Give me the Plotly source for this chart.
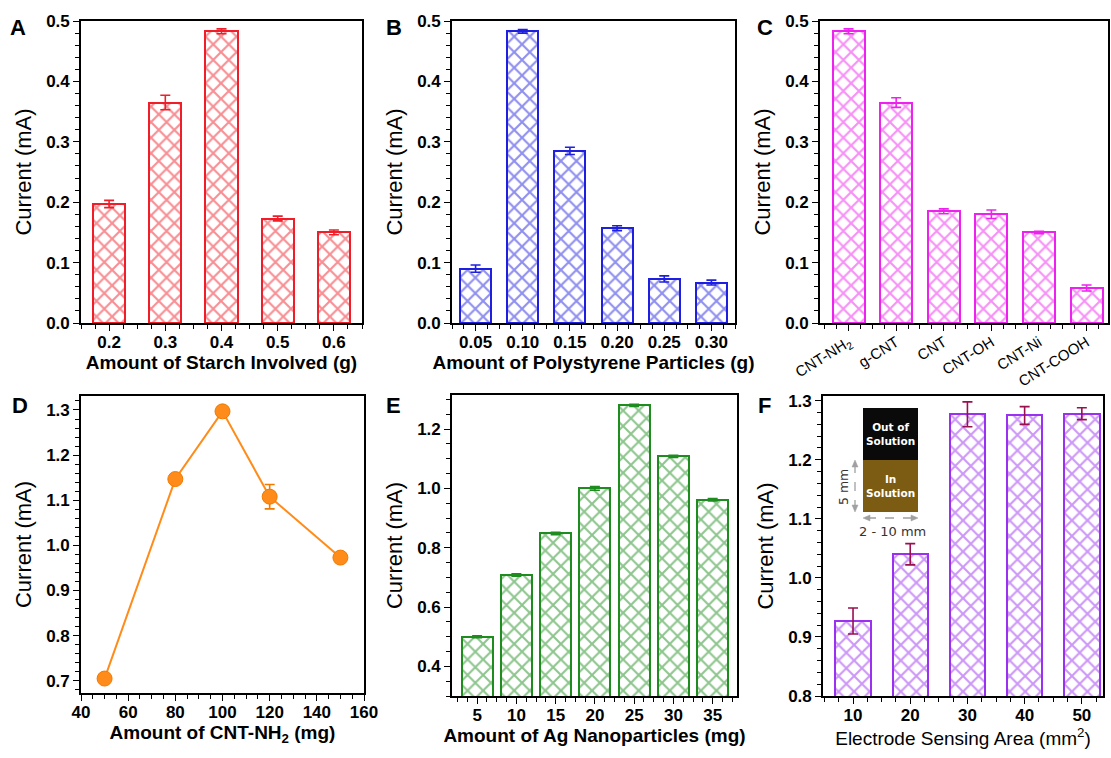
import plotly.graph_objects as go

W, H = 1111, 758

# ---------------- data ----------------
starch_x = [0.2, 0.3, 0.4, 0.5, 0.6]
starch_y = [0.197, 0.365, 0.483, 0.173, 0.150]
starch_err = [0.006, 0.012, 0.004, 0.004, 0.004]

ps_x = [0.05, 0.10, 0.15, 0.20, 0.25, 0.30]
ps_labels = ["0.05", "0.10", "0.15", "0.20", "0.25", "0.30"]
ps_y = [0.090, 0.483, 0.285, 0.157, 0.073, 0.067]
ps_err = [0.006, 0.003, 0.006, 0.004, 0.005, 0.004]

cnt_labels = ["CNT-NH<sub>2</sub>", "g-CNT", "CNT", "CNT-OH", "CNT-Ni", "CNT-COOH"]
cnt_y = [0.483, 0.365, 0.185, 0.180, 0.150, 0.058]
cnt_err = [0.004, 0.008, 0.004, 0.007, 0.002, 0.005]

nh2_x = [50, 80, 100, 120, 150]
nh2_y = [0.705, 1.147, 1.297, 1.108, 0.973]
nh2_err = [0.004, 0.005, 0.004, 0.027, 0.005]

ag_x = [5, 10, 15, 20, 25, 30, 35]
ag_y = [0.500, 0.708, 0.848, 1.000, 1.280, 1.108, 0.962]
ag_err = [0.003, 0.004, 0.004, 0.006, 0.004, 0.004, 0.004]

area_x = [10, 20, 30, 40, 50]
area_y = [0.927, 1.040, 1.277, 1.275, 1.278]
area_err = [0.022, 0.018, 0.021, 0.015, 0.010]

# ---------------- helpers ----------------
def px_x(a, b):
    return [a / W, b / W]

def px_y(top, bot):
    return [1 - bot / H, 1 - top / H]

def PX(p):
    return p / W

def PY(p):
    return 1 - p / H

FONT = "Liberation Sans, Arial, sans-serif"
TICKFONT = dict(family=FONT, size=17, color="black", weight="bold")

fig = go.Figure()

def bar(x, y, err, color, width, xa, ya, errcolor=None):
    fig.add_trace(go.Bar(
        x=x, y=y, width=width, xaxis=xa, yaxis=ya,
        marker=dict(color="white",
                    line=dict(color=color, width=2),
                    pattern=dict(shape="x", fgcolor=color, bgcolor="white",
                                 size=11, solidity=0.35, fillmode="overlay")),
        error_y=dict(type="data", array=err, color=errcolor or color,
                     thickness=1.6, width=5),
        showlegend=False))

# A
bar(starch_x, starch_y, starch_err, "#F01E28", 0.057, "x", "y")
# B
bar(ps_x, ps_y, ps_err, "#1F1FE0", 0.033, "x2", "y2")
# C
bar(list(range(len(cnt_labels))), cnt_y, cnt_err, "#EE22EE", 0.67, "x3", "y3")
# D
fig.add_trace(go.Scatter(
    x=nh2_x, y=nh2_y, xaxis="x4", yaxis="y4", mode="lines+markers",
    line=dict(color="#FF8C1A", width=2),
    marker=dict(color="#FF8C1A", size=15, line=dict(color="#F07A00", width=1)),
    error_y=dict(type="data", array=nh2_err, color="#F07A00", thickness=1.6, width=5),
    showlegend=False))
# E
bar(ag_x, ag_y, ag_err, "#1E8C1E", 3.95, "x5", "y5")
# F
bar(area_x, area_y, area_err, "#9A30F0", 6.2, "x6", "y6", errcolor="#99104F")

def xaxis(dom, rng, dtick, minor, anchor, title=None, tfont=None, **kw):
    d = dict(domain=dom, range=rng, anchor=anchor, dtick=dtick, automargin=False,
             showline=True, linecolor="black", linewidth=1.6, mirror=True,
             ticks="outside", ticklen=6, tickwidth=1.4, tickcolor="black",
             minor=dict(dtick=minor, ticks="outside", ticklen=4, tickcolor="black", tickwidth=1.2),
             showgrid=False, zeroline=False, tickfont=TICKFONT, ticklabelstandoff=-3)
    if title:
        d["title"] = dict(text=title,
                          font=tfont or dict(family=FONT, size=19, color="black", weight="bold"),
                          standoff=2)
    d.update(kw)
    return d

def yaxis(dom, rng, dtick, minor, anchor, **kw):
    d = dict(domain=dom, range=rng, anchor=anchor, dtick=dtick, tick0=0, automargin=False,
             showline=True, linecolor="black", linewidth=1.6, mirror=True,
             ticks="outside", ticklen=6, tickwidth=1.4, tickcolor="black",
             minor=dict(dtick=minor, ticks="outside", ticklen=4, tickcolor="black", tickwidth=1.2),
             showgrid=False, zeroline=False, tickfont=TICKFONT,
             title=dict(text="Current (mA)", font=dict(family=FONT, size=22, color="black"),
                        standoff=8))
    d.update(kw)
    return d

top_row = (21, 323)
fig.update_layout(
    width=W, height=H, margin=dict(l=0, r=0, t=0, b=0),
    paper_bgcolor="white", plot_bgcolor="white", bargap=0,
    xaxis=xaxis(px_x(81, 362), [0.15, 0.65], 0.1, 0.025, "y", "Amount of Starch Involved (g)", tick0=0),
    yaxis=yaxis(px_y(*top_row), [0, 0.5], 0.1, 0.02, "x", tickformat=".1f"),
    xaxis2=xaxis(px_x(452, 735), [0.025, 0.325], None, 0.0125, "y2", "Amount of Polystyrene Particles (g)",
                 tickvals=ps_x, ticktext=ps_labels),
    yaxis2=yaxis(px_y(*top_row), [0, 0.5], 0.1, 0.02, "x2", tickformat=".1f"),
    xaxis3=xaxis(px_x(820, 1108), [-0.6, 5.45], None, 0.25, "y3",
                 tickvals=list(range(len(cnt_labels))), ticktext=cnt_labels, tickangle=-32,
                 tickfont=dict(family=FONT, size=15, color="black")),
    yaxis3=yaxis(px_y(*top_row), [0, 0.5], 0.1, 0.02, "x3", tickformat=".1f"),
    xaxis4=xaxis(px_x(81, 364), [40, 160], 20, 5, "y4", "Amount of CNT-NH<sub>2</sub> (mg)", tick0=0),
    yaxis4=yaxis(px_y(396, 693), [0.673, 1.331], 0.1, 0.02, "x4", tickformat=".1f"),
    xaxis5=xaxis(px_x(452, 737), [1.8, 38.1], 5, 1.25, "y5", "Amount of Ag Nanoparticles (mg)", tick0=0),
    yaxis5=yaxis(px_y(395, 696), [0.3, 1.315], 0.2, 0.05, "x5", tickformat=".1f"),
    xaxis6=xaxis(px_x(823, 1103), [4.75, 53.7], 10, 2.5, "y6", "Electrode Sensing Area (mm<sup>2</sup>)",
                 tfont=dict(family=FONT, size=19, color="black"), tick0=0),
    yaxis6=yaxis(px_y(396, 696), [0.8, 1.308], 0.1, 0.02, "x6", tickformat=".1f"),
)

def note(text, x, y, font, angle=0):
    fig.add_annotation(text=text, x=PX(x), y=PY(y), xref="paper", yref="paper",
                       showarrow=False, xanchor="center", yanchor="middle",
                       textangle=angle, font=font)

# panel letters
letters = [("A", 18, 28), ("B", 394, 28), ("C", 765, 28), ("D", 20, 405), ("E", 393, 405), ("F", 764, 405)]
for t, x, y in letters:
    note(t, x, y, dict(family=FONT, size=22, color="black", weight="bold"))

# inset in F (schematic of electrode)
fig.add_shape(type="rect", xref="paper", yref="paper", x0=PX(863), x1=PX(918), y0=PY(460), y1=PY(408),
              fillcolor="#0A0A0A", line=dict(width=0))
fig.add_shape(type="rect", xref="paper", yref="paper", x0=PX(863), x1=PX(918), y0=PY(512), y1=PY(460),
              fillcolor="#7B5C12", line=dict(width=0))
INSET = dict(family="DejaVu Sans", size=10.5, color="white", weight="bold")
note("Out of<br>Solution", 890.5, 434, INSET)
note("In<br>Solution", 890.5, 486, INSET)
GREY = "#A0A0A0"
fig.add_shape(type="line", xref="paper", yref="paper", x0=PX(855), x1=PX(855), y0=PY(464), y1=PY(508),
              line=dict(color=GREY, width=1.3, dash="dash"))
fig.add_shape(type="line", xref="paper", yref="paper", x0=PX(867), x1=PX(914), y0=PY(518), y1=PY(518),
              line=dict(color=GREY, width=1.3, dash="dash"))
def tri(pts):
    path = "M " + " L ".join(f"{PX(a)},{PY(b)}" for a, b in pts) + " Z"
    fig.add_shape(type="path", xref="paper", yref="paper", path=path,
                  fillcolor=GREY, line=dict(color=GREY, width=0.5))
tri([(855, 460), (852, 467), (858, 467)])
tri([(855, 512), (852, 505), (858, 505)])
tri([(863, 518), (870, 515), (870, 521)])
tri([(918, 518), (911, 515), (911, 521)])
note("5 mm", 843, 487, dict(family="DejaVu Sans", size=12.5, color="#333333"), angle=-90)
note("2 - 10 mm", 892, 531, dict(family="DejaVu Sans", size=13, color="#333333"))

fig.write_html("out.html")
